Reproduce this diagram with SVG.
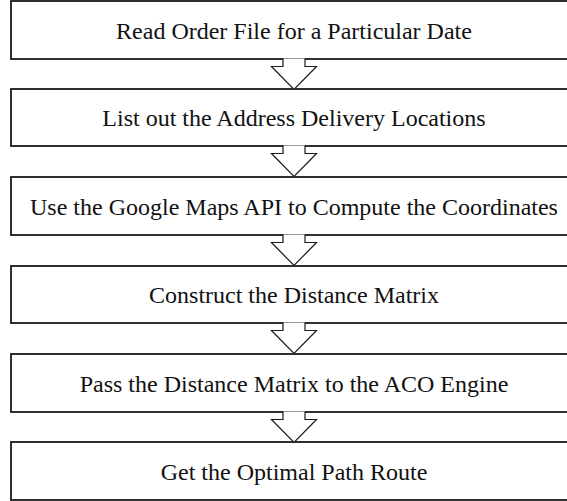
<svg xmlns="http://www.w3.org/2000/svg" width="567" height="501" viewBox="0 0 567 501">
<style>
.box{fill:#fff;stroke:#1a1a1a;stroke-width:1.8}
.lbl{font-family:"Liberation Serif","Times New Roman",serif;font-size:24px;fill:#111;text-anchor:middle}
.arr{fill:#fff;stroke:#1a1a1a;stroke-width:1.2;stroke-linejoin:miter}
</style>
<defs>
<path id="blockArrow" d="M283,0 V8 H271.5 L294,31 L316.5,8 H305 V0"/>
</defs>
<g id="node1"><rect class="box" x="11" y="1" width="570" height="58"/><text class="lbl" x="294" y="38.5">Read Order File for a Particular Date</text></g>
<g id="node2"><rect class="box" x="11" y="89" width="570" height="57"/><text class="lbl" x="294" y="126">List out the Address Delivery Locations</text></g>
<g id="node3"><rect class="box" x="11" y="177" width="570" height="58"/><text class="lbl" x="294" y="214.5">Use the Google Maps API to Compute the Coordinates</text></g>
<g id="node4"><rect class="box" x="11" y="266" width="570" height="57"/><text class="lbl" x="294" y="303">Construct the Distance Matrix</text></g>
<g id="node5"><rect class="box" x="11" y="354" width="570" height="58"/><text class="lbl" x="294" y="391.5">Pass the Distance Matrix to the ACO Engine</text></g>
<g id="node6"><rect class="box" x="11" y="442" width="570" height="58"/><text class="lbl" x="294" y="479.5">Get the Optimal Path Route</text></g>
<g id="connectors">
<use href="#blockArrow" class="arr" transform="translate(0,58.5)"/>
<use href="#blockArrow" class="arr" transform="translate(0,145.5)"/>
<use href="#blockArrow" class="arr" transform="translate(0,234.5)"/>
<use href="#blockArrow" class="arr" transform="translate(0,322.5)"/>
<use href="#blockArrow" class="arr" transform="translate(0,411.5)"/>
</g>
</svg>
